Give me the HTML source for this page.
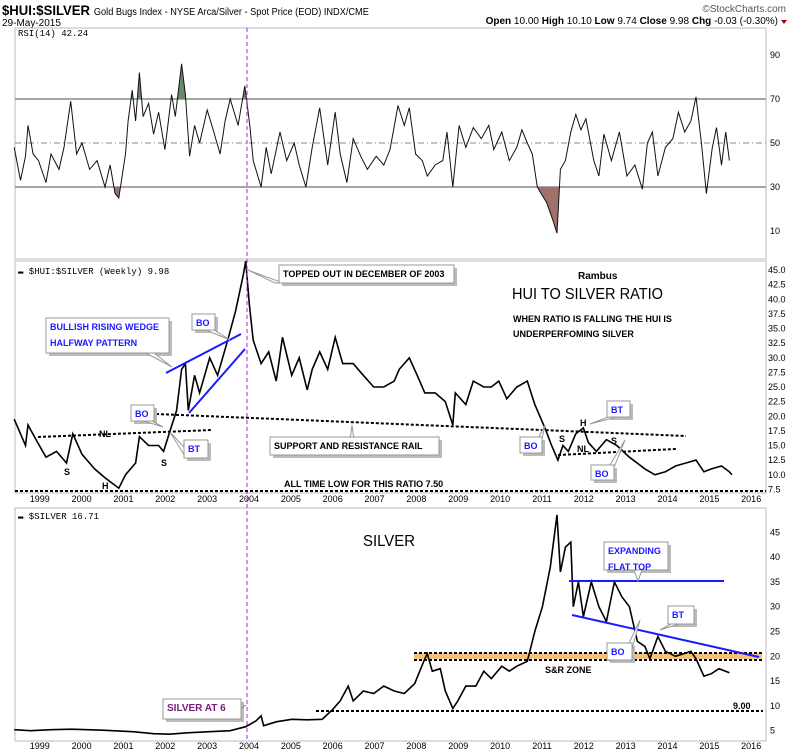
<!DOCTYPE html>
<html><head><meta charset="utf-8"><style>
html,body{margin:0;padding:0;background:#fff;}
svg{display:block;font-family:"Liberation Sans Narrow","Liberation Sans",sans-serif;}
</style></head><body>
<svg id="c" width="800" height="756" viewBox="0 0 800 756" xmlns="http://www.w3.org/2000/svg">
<g>
<text x="2" y="15" font-size="14" font-weight="bold"><tspan textLength="88" lengthAdjust="spacingAndGlyphs">$HUI:$SILVER</tspan> <tspan font-size="10" font-weight="normal" textLength="275" lengthAdjust="spacingAndGlyphs">Gold Bugs Index - NYSE Arca/Silver - Spot Price (EOD)  INDX/CME</tspan></text>
<text x="2" y="26" font-size="10">29-May-2015</text>
<text x="786" y="12" font-size="10" fill="#555" text-anchor="end">©StockCharts.com</text>
<text x="778" y="24" font-size="10" text-anchor="end"><tspan font-weight="bold">Open</tspan> 10.00 <tspan font-weight="bold">High</tspan> 10.10 <tspan font-weight="bold">Low</tspan> 9.74 <tspan font-weight="bold">Close</tspan> 9.98 <tspan font-weight="bold">Chg</tspan> -0.03 (-0.30%)</text>
<path d="M781,20 l6,0 l-3,4 z" fill="#a00"/>
</g>
<g id="panels"></g>
</svg>
<script>
// ---- data ----
const rsiDates=[1998.39,1998.54,1998.66,1998.72,1998.84,1998.97,1999.15,1999.27,1999.46,1999.58,1999.74,1999.88,2000.01,2000.19,2000.37,2000.56,2000.68,2000.80,2000.89,2001.05,2001.11,2001.21,2001.29,2001.38,2001.47,2001.60,2001.72,2001.84,2001.99,2002.15,2002.24,2002.39,2002.48,2002.58,2002.70,2002.82,2003.00,2003.16,2003.31,2003.43,2003.55,2003.74,2003.90,2003.94,2004.02,2004.10,2004.29,2004.41,2004.53,2004.74,2004.90,2005.08,2005.20,2005.36,2005.51,2005.69,2005.88,2006.06,2006.18,2006.34,2006.49,2006.67,2006.83,2007.04,2007.22,2007.37,2007.56,2007.71,2007.83,2007.98,2008.14,2008.26,2008.45,2008.63,2008.73,2008.87,2009.02,2009.18,2009.36,2009.55,2009.73,2009.85,2010.04,2010.22,2010.40,2010.52,2010.65,2010.77,2010.89,2011.01,2011.11,2011.26,2011.36,2011.44,2011.56,2011.69,2011.81,2011.93,2012.05,2012.24,2012.36,2012.48,2012.66,2012.85,2013.03,2013.22,2013.40,2013.52,2013.64,2013.77,2013.95,2014.13,2014.26,2014.41,2014.56,2014.68,2014.81,2014.93,2015.07,2015.17,2015.29,2015.39,2015.48];
const rsiValues=[48,33,44,58,45,42,32,45,38,48,69,45,50,38,42,30,40,27,25,45,60,74,60,82,62,68,54,64,47,72,62,86,72,44,58,50,65,55,45,60,70,58,76,70,58,42,30,48,36,55,42,50,40,30,48,66,40,64,45,32,52,44,38,44,40,47,67,58,66,45,42,35,40,42,55,30,58,48,57,52,58,47,55,42,48,56,50,45,30,26,23,15,9,38,42,55,63,56,61,42,35,54,42,55,35,40,29,50,55,35,48,52,64,55,60,71,50,27,48,57,40,55,42];
const rsiTicks=[90,70,50,30,10];
const ratioDates=[1998.39,1998.66,1998.72,1998.91,1999.15,1999.40,1999.64,1999.79,2000.01,2000.31,2000.56,2000.74,2000.89,2001.05,2001.29,2001.38,2001.60,2001.84,2001.96,2002.09,2002.27,2002.39,2002.48,2002.55,2002.70,2002.82,2003.06,2003.25,2003.49,2003.68,2003.86,2003.92,2004.01,2004.10,2004.29,2004.47,2004.65,2004.80,2005.02,2005.20,2005.39,2005.51,2005.69,2005.88,2006.06,2006.24,2006.49,2006.73,2006.98,2007.22,2007.47,2007.59,2007.83,2008.02,2008.20,2008.45,2008.69,2008.87,2008.93,2009.18,2009.36,2009.61,2009.79,2009.97,2010.16,2010.40,2010.65,2010.83,2011.07,2011.23,2011.38,2011.50,2011.63,2011.81,2011.99,2012.11,2012.30,2012.54,2012.79,2013.09,2013.46,2013.70,2013.95,2014.19,2014.44,2014.68,2014.87,2015.05,2015.29,2015.48,2015.54];
const ratioValues=[19.5,15,18.5,16,13,14,12,17,13.5,11,9.5,8.5,7.7,10,12,16.5,15,15,14,17,21,28,29,21,27,24,30,27,33,38,44,46.5,39,33,29,31,26,33.5,27,30,24.5,28,31,28,33.5,29,29,27,25,25,26,28,30,27,24,24,22.5,18.5,24,22,26,25,25,26,23,25,26,22,18,15,12.5,15,14,17,18,15.5,14,16,15,13,11,10,10.5,11.5,12,12.5,10.5,11,11.5,10.5,10];
const ratioTicks=[45,42.5,40,37.5,35,32.5,30,27.5,25,22.5,20,17.5,15,12.5,10,7.5];
const silverDates=[1998.39,1998.78,1999.27,1999.76,2000.50,2001.23,2001.72,2002.09,2002.58,2003.06,2003.55,2003.92,2004.17,2004.29,2004.35,2004.65,2005.02,2005.39,2005.75,2006.00,2006.18,2006.37,2006.49,2006.73,2006.98,2007.22,2007.47,2007.71,2007.96,2008.20,2008.26,2008.38,2008.57,2008.69,2008.87,2008.99,2009.18,2009.42,2009.61,2009.79,2010.04,2010.22,2010.40,2010.65,2010.83,2011.01,2011.20,2011.36,2011.44,2011.56,2011.69,2011.75,2011.87,2011.99,2012.18,2012.36,2012.54,2012.73,2012.91,2013.09,2013.28,2013.46,2013.58,2013.77,2013.95,2014.19,2014.38,2014.56,2014.68,2014.87,2015.05,2015.23,2015.48];
const silverValues=[5.2,5,5.2,5.3,5.1,4.8,4.4,4.3,4.6,4.8,5,5.8,7,8,6,6.8,7.3,7.2,7.3,9.3,11,14,11,13,12.5,14,13,12.5,14.5,19.5,20.5,17,17.5,13,9.5,11,14,14,17,15.5,18,17,18,19,25,30,38,48.5,37,42,43,30,35,28,35,30,27,35,32,30,23,22,19.5,24,21,20,20.5,21,19.5,16,16.5,17.5,16.7];
const silverTicks=[45,40,35,30,25,20,15,10,5];
const yearLabels=[1999,2000,2001,2002,2003,2004,2005,2006,2007,2008,2009,2010,2011,2012,2013,2014,2015,2016];

// ---- scales ----
const L=15,R=766;
const xT=t=>249+(t-2004)*41.85;
const yRsi=v=>99+(70-v)*2.2;
const yRatio=v=>270+(45-v)*5.85;
const ySil=v=>532.3+(45-v)*4.96;
const NS='http://www.w3.org/2000/svg';
const root=document.getElementById('panels');
function mk(tag,attrs,parent){const e=document.createElementNS(NS,tag);for(const k in attrs)e.setAttribute(k,attrs[k]);(parent||root).appendChild(e);return e;}
function txt(x,y,s,attrs,parent){const e=mk('text',Object.assign({x:x,y:y},attrs),parent);e.textContent=s;return e;}
function pathFrom(dates,vals,ys){return dates.map((d,i)=>(i?'L':'M')+xT(d).toFixed(1)+','+ys(vals[i]).toFixed(1)).join('');}

const panels=[[28,259,'rsi-panel'],[261,493,'ratio-panel'],[508,741,'silver-panel']];
panels.forEach(p=>{
 const r=mk('rect',{x:L,y:p[0],width:R-L,height:p[1]-p[0],fill:'none',stroke:'#bbb','stroke-width':1});
 
 
});

// RSI
[70,30].forEach(v=>{const l=mk('line',{x1:L,x2:R,y1:yRsi(v),y2:yRsi(v),stroke:'#888','stroke-width':1.5});

});
const mid=mk('line',{x1:L,x2:R,y1:yRsi(50),y2:yRsi(50),stroke:'#888','stroke-dasharray':'6,3,1,3'});


const defs=mk('defs',{});
const c1=mk('clipPath',{id:'below30'},defs);mk('rect',{x:L,y:yRsi(30),width:R-L,height:80},c1);
const c2=mk('clipPath',{id:'above70'},defs);mk('rect',{x:L,y:28,width:R-L,height:yRsi(70)-28},c2);
const rp=pathFrom(rsiDates,rsiValues,yRsi);
const x0=xT(rsiDates[0]),x1=xT(rsiDates[rsiDates.length-1]);
const f1=mk('path',{d:rp+'L'+x1+','+yRsi(30)+'L'+x0+','+yRsi(30)+'Z',fill:'#a0706a','clip-path':'url(#below30)'});


const f2=mk('path',{d:rp+'L'+x1+','+yRsi(70)+'L'+x0+','+yRsi(70)+'Z',fill:'#6b8a6b','clip-path':'url(#above70)'});


const rl=mk('path',{d:rp,fill:'none',stroke:'#111','stroke-width':1});


rsiTicks.forEach(v=>{const t=txt(770,yRsi(v)+3,String(v),{'font-size':9});

});
const rt=txt(18,36,'RSI(14) 42.24',{'font-size':9,'font-family':'Liberation Mono, monospace'});



// Ratio
ratioTicks.forEach(v=>{const t=txt(768,yRatio(v)+3,v.toFixed(1),{'font-size':9});

});
const ratioL=mk('path',{d:pathFrom(ratioDates,ratioValues,yRatio),fill:'none',stroke:'#000','stroke-width':1.6});


const lt=txt(18,274,'▬ $HUI:$SILVER (Weekly) 9.98',{'font-size':9,'font-family':'Liberation Mono, monospace'});



// Silver
silverTicks.forEach(v=>{const t=txt(770,ySil(v)+3,String(v),{'font-size':9});

});
const band=mk('rect',{x:414,y:653,width:348,height:6,fill:'#f5c07a'});


const silL=mk('path',{d:pathFrom(silverDates,silverValues,ySil),fill:'none',stroke:'#000','stroke-width':1.6});


const st=txt(18,519,'▬ $SILVER 16.71',{'font-size':9,'font-family':'Liberation Mono, monospace'});



yearLabels.forEach(y=>{[502,749].forEach(py=>{const t=txt(xT(y),py,String(y),{'font-size':9,'text-anchor':'middle'});

});});

const pv=mk('line',{x1:247,x2:247,y1:28,y2:741,stroke:'#b020e0','stroke-dasharray':'4,3'});



function dash(xa,ya,xb,yb,name){const l=mk('line',{x1:xa,y1:ya,x2:xb,y2:yb,stroke:'#000','stroke-width':2,'stroke-dasharray':'3,2'});

}
dash(38,437,212,430,'left-neckline');
dash(156,414,686,436,'support-resistance-rail');
dash(558,455,676,449,'right-neckline');
dash(15,491,766,491,'all-time-low-line');
dash(414,653,762,653,'sr-zone-top');
dash(414,660,762,660,'sr-zone-bottom');
dash(316,711,763,711,'nine-dollar-line');
function blue(xa,ya,xb,yb,name){const l=mk('line',{x1:xa,y1:ya,x2:xb,y2:yb,stroke:'#1a1aff','stroke-width':2});

}
blue(166,373,241,334,'wedge-upper-line');
blue(189,413,245,349,'wedge-lower-line');
blue(569,581,724,581,'flat-top-line');
blue(572,615,759,657,'descending-trendline');

function callout(x,y,w,h,lines,color,tx,ty,px,name,size){
 const g=mk('g',{});
 
 
 mk('rect',{x:x+3,y:y+3,width:w,height:h,fill:'#bbb'},g);
 mk('polygon',{points:(px-4)+','+(y+h)+' '+(px+4)+','+(y+h)+' '+tx+','+ty,fill:'#fff',stroke:'#999'},g);
 mk('rect',{x:x,y:y,width:w,height:h,fill:'#fff',stroke:'#999'},g);
 lines.forEach((s,i)=>{txt(x+4,y+12+i*16,s,{'font-size':size||9,'font-weight':'bold',fill:color},g);});
}
callout(279,265,175,18,['TOPPED OUT IN DECEMBER OF 2003'],'#000',248,270,279,'topped-out-callout');
callout(46,318,123,35,['BULLISH RISING WEDGE','HALFWAY PATTERN'],'#1a1aff',172,367,150,'wedge-callout');
callout(192,314,23,16,['BO'],'#1a1aff',230,340,210,'bo-callout-2003');
callout(131,405,23,16,['BO'],'#1a1aff',163,427,148,'bo-callout-2002');
callout(184,440,24,18,['BT'],'#1a1aff',170,432,190,'bt-callout-2002');
callout(270,437,169,18,['SUPPORT AND RESISTANCE RAIL'],'#000',352,425,352,'sr-rail-callout');
callout(520,437,22,16,['BO'],'#1a1aff',545,425,535,'bo-callout-2011');
callout(607,401,23,16,['BT'],'#1a1aff',590,424,612,'bt-callout-2012');
callout(591,465,23,15,['BO'],'#1a1aff',625,440,605,'bo-callout-2012');
callout(604,542,64,28,['EXPANDING','FLAT TOP'],'#1a1aff',638,581,638,'flat-top-callout');
callout(668,606,26,18,['BT'],'#1a1aff',660,630,675,'bt-callout-2014');
callout(607,643,25,17,['BO'],'#1a1aff',640,620,625,'bo-callout-2013');
callout(163,699,78,20,['SILVER AT 6'],'#7a1a7a',246,705,225,'silver-at-6-callout',10);

function label(x,y,s,size,name,weight,len){const t=txt(x,y,s,{'font-size':size,'font-weight':weight||'bold'});
if(len){t.setAttribute('textLength',len);t.setAttribute('lengthAdjust','spacingAndGlyphs');}

}
label(578,279,'Rambus',10,'author-label');
label(512,299,'HUI TO SILVER RATIO',16,'ratio-title','normal',151);
label(513,322,'WHEN RATIO IS FALLING THE HUI IS',9,'note-line-1');
label(513,337,'UNDERPERFOMING SILVER',9,'note-line-2');
label(284,487,'ALL TIME  LOW FOR THIS RATIO    7.50',9,'all-time-low-label');
label(64,475,'S',9,'left-shoulder-1');
label(102,489,'H',9,'head-2000');
label(99,437,'NL',9,'neckline-label-1');
label(161,466,'S',9,'right-shoulder-1');
label(559,442,'S',9,'left-shoulder-2');
label(580,426,'H',9,'head-2012');
label(577,452,'NL',9,'neckline-label-2');
label(611,444,'S',9,'right-shoulder-2');
label(363,546,'SILVER',16,'silver-title','normal',52);
label(545,673,'S&R ZONE',9,'sr-zone-label');
label(733,709,'9.00',9,'nine-dollar-label');
</script>
</body></html>
